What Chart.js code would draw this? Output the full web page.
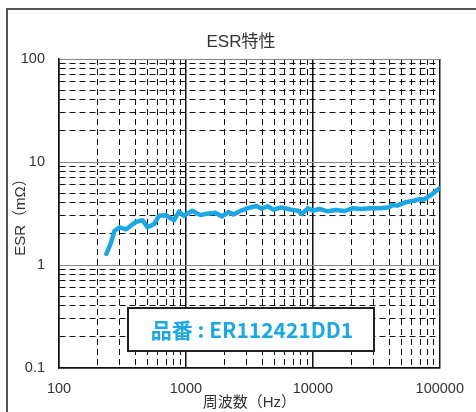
<!DOCTYPE html>
<html>
<head>
<meta charset="utf-8">
<script src="https://cdn.jsdelivr.net/npm/chart.js@4"></script>
<style>
  body { margin: 0; background: #fff; }
  #esrChart { display: block; }
</style>
</head>
<body>
<canvas id="esrChart" width="476" height="412"></canvas>
<script>
// ESR vs frequency
const freqHz = [236, 255, 274, 300, 338, 404, 456, 499, 562, 615, 694, 806, 882, 965, 1120, 1303, 1467, 1706, 1922, 2168,
  2371, 2754, 3106, 3607, 3947, 4396, 4870, 5652, 6767, 7636, 8203, 9140, 10000, 11280, 13100, 15210, 17690, 20540,
  23850, 28560, 34170, 39720, 42170, 46140, 53570, 62310, 70200, 74300, 83980, 100000];
const esrMohm = [1.28, 1.60, 2.15, 2.32, 2.22, 2.62, 2.72, 2.32, 2.50, 3.01, 3.04, 2.72, 3.29, 3.00, 3.37, 3.05, 3.15, 3.22, 2.96, 3.26,
  3.10, 3.40, 3.58, 3.74, 3.52, 3.72, 3.45, 3.62, 3.44, 3.37, 3.13, 3.55, 3.37, 3.50, 3.32, 3.42, 3.34, 3.55, 3.50, 3.55,
  3.55, 3.63, 3.82, 3.77, 4.06, 4.21, 4.37, 4.30, 4.71, 5.59];

const xDecades = [100, 1000, 10000, 100000];
const yDecades = [0.1, 1, 10, 100];

const chartTitle = 'ESR特性';
const xTitle = '周波数（Hz）';
const yTitle = 'ESR（mΩ）';
const partLabel = '品番 : ER112421DD1';

const lineBlue = '#1ba7e4';

// 1..9 x 10^n ticks between the first and last decade
function logTicks(decades) {
  const out = [];
  for (let i = 0; i < decades.length - 1; i++) {
    for (let m = 1; m < 10; m++) out.push({ value: m * decades[i] });
  }
  out.push({ value: decades[decades.length - 1] });
  return out;
}

const isDecade = v => Math.abs(Math.log10(v) - Math.round(Math.log10(v))) < 1e-6;

const cjkFont = '"Liberation Sans", "Noto Sans CJK JP", sans-serif';

const frame = {
  id: 'frame',
  beforeDraw(chart) {
    const c = chart.ctx;
    c.save();
    c.strokeStyle = '#555';
    c.lineWidth = 2;
    c.strokeRect(7, 9, 600, 600);
    c.fillStyle = '#333';
    c.font = '17px ' + cjkFont;
    c.textAlign = 'center';
    c.textBaseline = 'middle';
    c.fillText(chartTitle, 241, 42);
    c.restore();
  },
  afterDraw(chart) {
    const c = chart.ctx;
    c.save();
    c.fillStyle = '#fff';
    c.fillRect(128, 308, 246, 43);
    c.strokeStyle = '#222';
    c.lineWidth = 2;
    c.strokeRect(128, 308, 246, 43);
    c.fillStyle = lineBlue;
    c.font = 'bold 21px "Noto Sans CJK JP", sans-serif';
    c.textAlign = 'center';
    c.textBaseline = 'middle';
    c.fillText(partLabel, 252, 330);
    c.restore();
  }
};

const gridFor = (majorColor, majorWidth) => ({
  drawTicks: false,
  color: ctx => (ctx.tick && isDecade(ctx.tick.value)) ? majorColor : '#111',
  lineWidth: ctx => (ctx.tick && isDecade(ctx.tick.value)) ? majorWidth : 1
});

const borderFor = () => ({
  color: '#111',
  width: 1.5,
  dash: ctx => (ctx.tick && !isDecade(ctx.tick.value)) ? [6, 4] : []
});

new Chart(document.getElementById('esrChart'), {
  type: 'scatter',
  data: {
    datasets: [{
      data: freqHz.map((f, i) => ({ x: f, y: esrMohm[i] })),
      showLine: true,
      borderColor: lineBlue,
      borderWidth: 4.5,
      borderJoinStyle: 'round',
      borderCapStyle: 'round',
      pointRadius: 0,
      tension: 0
    }]
  },
  options: {
    responsive: false,
    animation: false,
    layout: { padding: { top: 59, right: 33, left: 0, bottom: 0 } },
    plugins: { legend: { display: false }, tooltip: { enabled: false } },
    scales: {
      x: {
        type: 'logarithmic',
        min: xDecades[0],
        max: xDecades[xDecades.length - 1],
        afterBuildTicks: s => { s.ticks = logTicks(xDecades); },
        afterFit: s => { s.height = 44; },
        grid: gridFor('#111', 1.5),
        border: borderFor(),
        ticks: {
          autoSkip: false,
          maxRotation: 0,
          padding: 12,
          color: '#333',
          font: { family: '"Liberation Sans", Arial, sans-serif', size: 14.5 },
          callback: v => isDecade(v) ? String(v) : ''
        },
        title: {
          display: true,
          text: xTitle,
          color: '#333',
          font: { family: cjkFont, size: 15 },
          padding: { top: 0, bottom: 0 }
        }
      },
      y: {
        type: 'logarithmic',
        min: yDecades[0],
        max: yDecades[yDecades.length - 1],
        afterBuildTicks: s => { s.ticks = logTicks(yDecades); },
        afterFit: s => { s.width = 59; },
        grid: gridFor('#888', 1),
        border: borderFor(),
        ticks: {
          autoSkip: false,
          padding: 14,
          color: '#333',
          font: { family: '"Liberation Sans", Arial, sans-serif', size: 14.5 },
          callback: v => isDecade(v) ? String(v) : ''
        },
        title: {
          display: true,
          text: yTitle,
          color: '#333',
          font: { family: cjkFont, size: 15 },
          padding: { top: 12, bottom: 0 }
        }
      }
    }
  },
  plugins: [frame]
});
</script>
</body>
</html>
